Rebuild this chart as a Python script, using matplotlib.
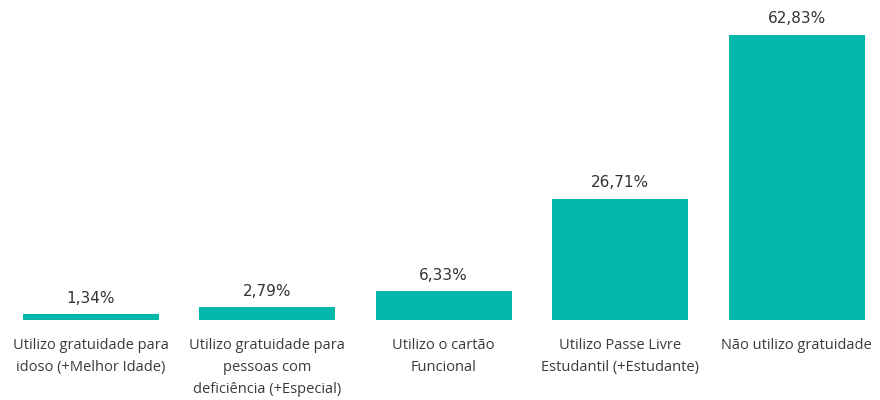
import matplotlib.pyplot as plt

categories = [
    "Utilizo gratuidade para\nidoso (+Melhor Idade)",
    "Utilizo gratuidade para\npessoas com\ndeficiência (+Especial)",
    "Utilizo o cartão\nFuncional",
    "Utilizo Passe Livre\nEstudantil (+Estudante)",
    "Não utilizo gratuidade",
]
values = [1.34, 2.79, 6.33, 26.71, 62.83]
labels = ["1,34%", "2,79%", "6,33%", "26,71%", "62,83%"]

bar_color = "#01B8AA"

fig = plt.figure(figsize=(8.8, 4), dpi=100)
ax = fig.add_axes([0.0026, 0.2, 1.003, 0.8])
x = list(range(len(values)))
ax.bar(x, values, width=0.77, color=bar_color)
ax.set_xlim(-0.5, len(values) - 0.5)
ax.set_ylim(0, 70.5)

for xi, v, lab in zip(x, values, labels):
    ax.annotate(lab, (xi, v), xytext=(0, 6), textcoords="offset points",
                ha="center", va="bottom", fontsize=11, color="#333333",
                family=["Liberation Sans Narrow", "DejaVu Sans"])

for xi, cat in zip(x, categories):
    ax.annotate(cat, (xi, 0), xytext=(0, -13), textcoords="offset points",
                ha="center", va="top", fontsize=10.5, color="#3a3a3a",
                family=["Open Sans", "DejaVu Sans"], linespacing=1.62)

ax.axis("off")
fig.savefig("out.png", dpi=100)
